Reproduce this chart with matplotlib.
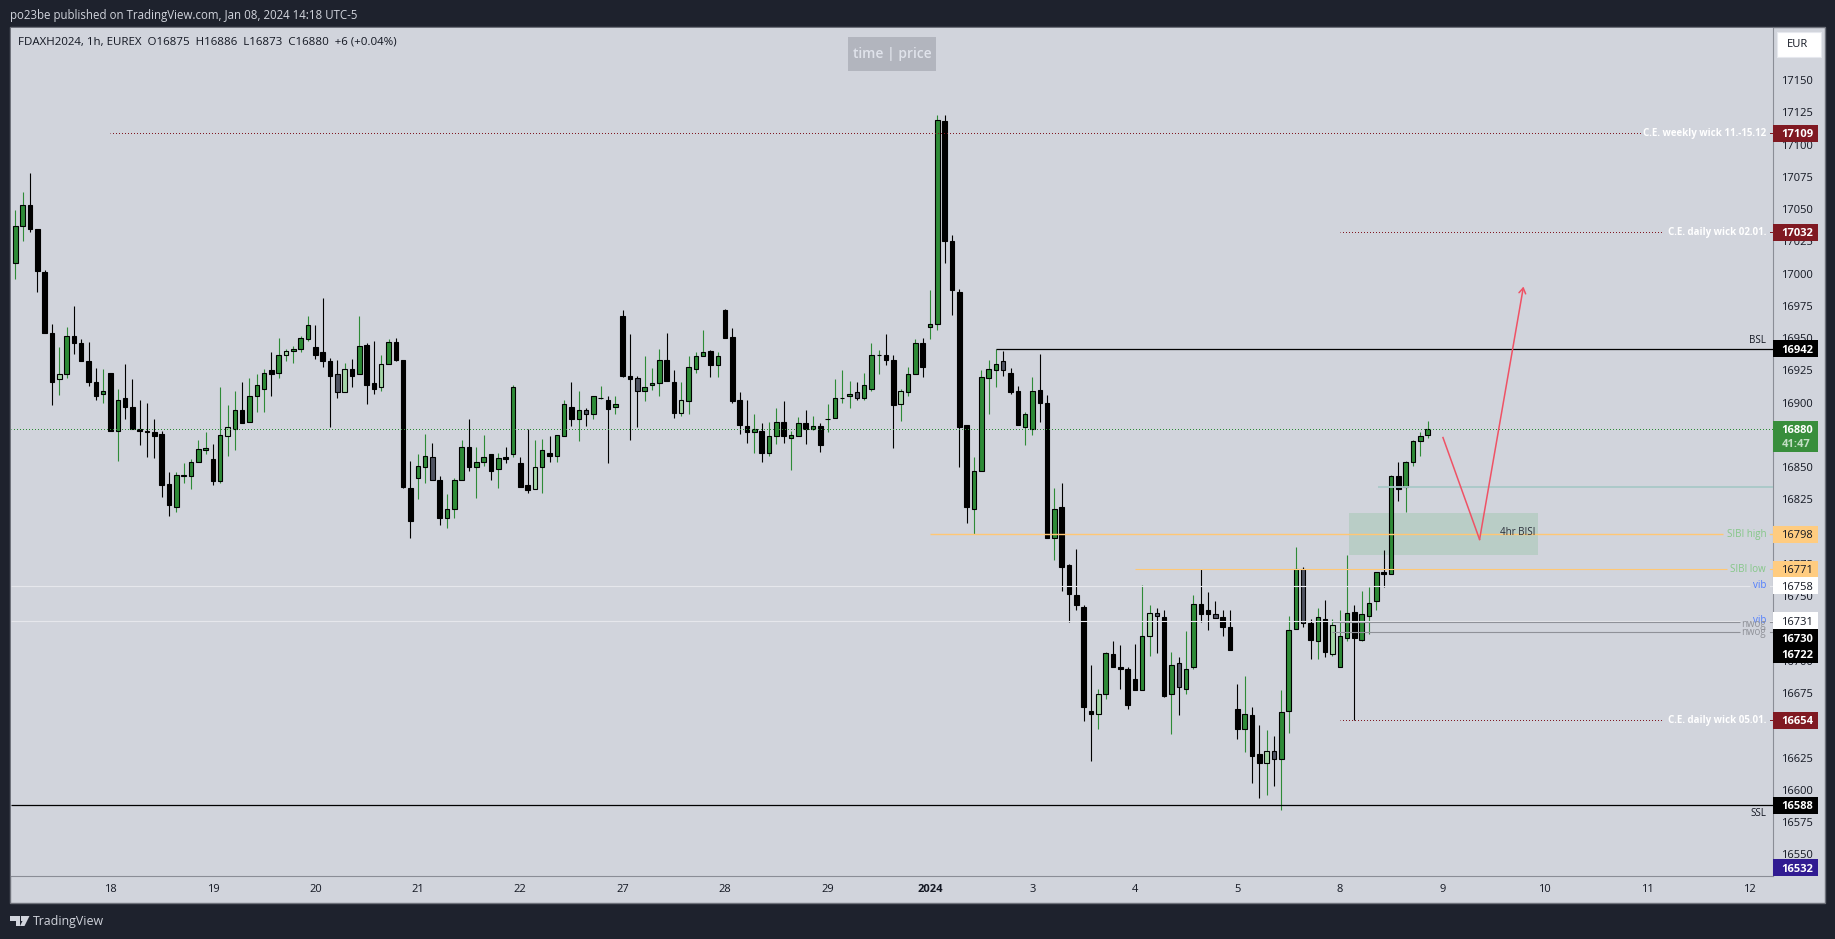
#!/usr/bin/env python3
"""
plot.py -- FDAXH2024 1h candles with the drawn levels, as published on TradingView.
Saves out.png (1835x939).
"""

import matplotlib
matplotlib.use("Agg")
import matplotlib.pyplot as plt
from matplotlib.patches import Polygon, Rectangle

# ---------------------------------------------------------------------------
#  Data
# ---------------------------------------------------------------------------
opens = [
    17008, 17037, 17053, 17035, 17001, 16954, 16918, 16922, 16952, 16946,
    16932, 16916, 16907, 16923, 16878, 16904, 16897, 16880, 16878, 16877,
    16876, 16837, 16819, 16843, 16843, 16854, 16863, 16856, 16839, 16874,
    16880, 16894, 16885, 16905, 16911, 16925, 16923, 16937, 16940, 16942,
    16949, 16943, 16939, 16932, 16922, 16908, 16926, 16922, 16945, 16915,
    16912, 16930, 16947, 16933, 16834, 16842, 16850, 16858, 16840, 16811,
    16818, 16840, 16866, 16850, 16854, 16860, 16849, 16858, 16860, 16853,
    16836, 16833, 16850, 16861, 16859, 16874, 16897, 16887, 16894, 16891,
    16904, 16902, 16897, 16967, 16921, 16919, 16909, 16914, 16915, 16933,
    16916, 16892, 16901, 16926, 16936, 16940, 16929, 16972, 16951, 16902,
    16882, 16877, 16878, 16861, 16874, 16885, 16873, 16874, 16884, 16880,
    16882, 16887, 16888, 16904, 16905, 16908, 16904, 16911, 16937, 16937,
    16933, 16899, 16908, 16922, 16946, 16959, 16961, 17118, 17025, 16986,
    16883, 16818, 16847, 16919, 16925, 16932, 16923, 16909, 16881, 16880,
    16910, 16900, 16795, 16819, 16774, 16751, 16742, 16661, 16659, 16674,
    16705, 16695, 16694, 16686, 16677, 16719, 16737, 16734, 16674, 16698,
    16678, 16695, 16744, 16739, 16736, 16734, 16726, 16663, 16647, 16658,
    16628, 16621, 16630, 16624, 16661, 16725, 16771, 16729, 16715, 16732,
    16705, 16695, 16718, 16738, 16716, 16735, 16746, 16769, 16767, 16843,
    16835, 16854, 16870, 16875,
]
highs = [
    17049, 17063, 17078, 17035, 17003, 16961, 16943, 16959, 16975, 16949,
    16947, 16927, 16926, 16923, 16911, 16930, 16918, 16902, 16900, 16887,
    16878, 16846, 16846, 16853, 16856, 16871, 16877, 16868, 16912, 16898,
    16909, 16916, 16919, 16922, 16926, 16939, 16950, 16942, 16944, 16952,
    16967, 16960, 16981, 16935, 16933, 16931, 16934, 16967, 16946, 16948,
    16937, 16949, 16950, 16933, 16855, 16860, 16876, 16869, 16843, 16829,
    16842, 16871, 16887, 16866, 16875, 16860, 16861, 16866, 16914, 16858,
    16880, 16871, 16872, 16874, 16875, 16902, 16916, 16909, 16896, 16905,
    16913, 16905, 16905, 16972, 16953, 16921, 16936, 16927, 16942, 16954,
    16925, 16916, 16936, 16939, 16956, 16941, 16939, 16973, 16958, 16908,
    16902, 16891, 16884, 16885, 16896, 16901, 16878, 16889, 16894, 16890,
    16884, 16899, 16918, 16925, 16917, 16916, 16923, 16946, 16941, 16953,
    16937, 16911, 16928, 16949, 16950, 16987, 17123, 17123, 17030, 16988,
    16883, 16858, 16925, 16933, 16942, 16940, 16927, 16913, 16893, 16920,
    16938, 16906, 16834, 16838, 16775, 16787, 16743, 16697, 16678, 16707,
    16715, 16712, 16695, 16713, 16759, 16743, 16741, 16739, 16707, 16703,
    16723, 16751, 16771, 16753, 16746, 16739, 16739, 16682, 16688, 16664,
    16650, 16646, 16642, 16677, 16735, 16788, 16773, 16732, 16741, 16747,
    16732, 16739, 16782, 16743, 16754, 16757, 16769, 16786, 16844, 16854,
    16855, 16871, 16877, 16886,
]
lows = [
    16996, 17025, 17032, 16986, 16954, 16898, 16906, 16919, 16938, 16932,
    16913, 16902, 16900, 16878, 16855, 16887, 16880, 16867, 16858, 16857,
    16827, 16812, 16815, 16838, 16833, 16854, 16860, 16836, 16838, 16859,
    16863, 16884, 16885, 16893, 16893, 16905, 16919, 16932, 16931, 16939,
    16948, 16934, 16928, 16881, 16904, 16908, 16912, 16922, 16899, 16907,
    16909, 16930, 16932, 16834, 16795, 16825, 16838, 16840, 16805, 16803,
    16811, 16840, 16847, 16826, 16851, 16840, 16834, 16853, 16858, 16835,
    16830, 16833, 16830, 16854, 16854, 16874, 16882, 16870, 16882, 16887,
    16903, 16853, 16891, 16920, 16871, 16881, 16901, 16910, 16905, 16917,
    16888, 16890, 16891, 16923, 16936, 16920, 16920, 16950, 16900, 16876,
    16869, 16861, 16854, 16859, 16868, 16869, 16848, 16874, 16868, 16879,
    16862, 16877, 16888, 16900, 16896, 16902, 16902, 16909, 16922, 16929,
    16865, 16886, 16905, 16922, 16920, 16949, 16956, 17008, 16968, 16850,
    16807, 16798, 16847, 16891, 16912, 16921, 16907, 16883, 16867, 16875,
    16885, 16795, 16778, 16754, 16730, 16739, 16653, 16622, 16647, 16670,
    16695, 16678, 16663, 16677, 16677, 16704, 16706, 16672, 16643, 16658,
    16674, 16694, 16730, 16724, 16733, 16719, 16708, 16639, 16629, 16605,
    16594, 16596, 16603, 16584, 16644, 16725, 16726, 16701, 16701, 16703,
    16704, 16695, 16715, 16654, 16715, 16721, 16739, 16757, 16767, 16824,
    16815, 16851, 16859, 16873,
]
closes = [
    17037, 17053, 17035, 17002, 16954, 16916, 16922, 16952, 16946, 16932,
    16916, 16905, 16909, 16878, 16902, 16897, 16880, 16878, 16877, 16874,
    16836, 16821, 16844, 16844, 16854, 16864, 16865, 16839, 16875, 16881,
    16894, 16884, 16905, 16914, 16923, 16922, 16937, 16940, 16942, 16950,
    16960, 16937, 16932, 16921, 16908, 16926, 16921, 16944, 16914, 16911,
    16930, 16947, 16933, 16835, 16808, 16851, 16859, 16840, 16811, 16818,
    16840, 16866, 16850, 16854, 16858, 16847, 16857, 16856, 16912, 16835,
    16832, 16850, 16863, 16859, 16875, 16899, 16887, 16894, 16891, 16905,
    16904, 16895, 16899, 16921, 16918, 16909, 16912, 16915, 16933, 16917,
    16892, 16902, 16928, 16936, 16939, 16929, 16936, 16950, 16901, 16883,
    16877, 16880, 16861, 16874, 16885, 16874, 16875, 16884, 16880, 16882,
    16867, 16887, 16904, 16904, 16907, 16904, 16914, 16937, 16937, 16933,
    16898, 16909, 16922, 16946, 16928, 16961, 17119, 17025, 16987, 16881,
    16819, 16847, 16920, 16926, 16930, 16925, 16908, 16883, 16891, 16909,
    16900, 16795, 16818, 16773, 16752, 16743, 16664, 16659, 16674, 16706,
    16695, 16694, 16666, 16677, 16719, 16737, 16735, 16673, 16697, 16680,
    16694, 16744, 16736, 16736, 16733, 16726, 16708, 16647, 16659, 16626,
    16621, 16630, 16624, 16660, 16724, 16771, 16729, 16716, 16734, 16707,
    16728, 16719, 16737, 16718, 16736, 16745, 16769, 16767, 16843, 16833,
    16854, 16870, 16874, 16880,
]
# g = green, b = black, l = light green, d = dark grey
kinds = (
    "ggbbbblgbb" "bbgbgbbbbb" "bbgggggbgl" "gbgggbglgg" "gbbbdlbgbb"
    "lgbbbggdbg" "ggbggbgbgb" "blgbggbgdg" "gbgbbdgggb" "blgggbgbbb"
    "bgbggbggbg" "bggggdgggb" "blggbggbbb" "bggggdbbgg" "bbgbbbbblg"
    "bbbbgldbgd" "ggbbdbbbgb" "bldgggdbgb" "lggbgggbgb" "gggg"
)

day_ticks = [13 + 14 * k for k in range(17)]
day_labels = ["18", "19", "20", "21", "22", "27", "28", "29", "2024",
              "3", "4", "5", "8", "9", "10", "11", "12"]
price_ticks = list(range(16550, 17151, 25))

tag_prices = [17109, 17032, 16942, 16880, 16798, 16771, 16758, 16731, 16730, 16722, 16654, 16588, 16532]
tag_shifts = [0, 0, 0, 0, 0, 0, 0, 0, -12, -17, 0, 0, 7.5]

path_x = [195.1, 200.1, 206.1]
path_y = [16873, 16794, 16990]

# ---------------------------------------------------------------------------
#  Layout / colours
# ---------------------------------------------------------------------------
W, H = 1835, 939
AX_L, AX_R, AX_T, AX_B = 10.5, 1773, 27.5, 876
FRAME_R, FRAME_B = 1825, 903

BG = "#1e222d"
PANE = "#d1d4dc"
BORDER = "#8a8d96"
TEXT = "#131722"
FONT = ["Open Sans", "DejaVu Sans"]

GREEN = "#2e8b37"
LIGHT = "#a5d6a7"
GREY = "#4f5361"
RED_DK = "#801922"
ORANGE = "#ffcc80"
TAG_COLORS = [RED_DK, RED_DK, "#000000", "#388e3c", ORANGE, ORANGE, "#ffffff", "#ffffff",
              "#000000", "#000000", RED_DK, "#000000", "#311b92"]
TAG_TEXT = ["w", "w", "w", "w", "k", "k", "k", "k", "w", "w", "w", "w", "w"]

plt.rcParams["font.family"] = FONT


def fx(px):
    return px / W


def fy(py):
    return 1 - py / H


def add_rect(fig, x0, y0, x1, y1, **kw):
    fig.add_artist(Rectangle((fx(x0), fy(y1)), fx(x1) - fx(x0), fy(y0) - fy(y1),
                             transform=fig.transFigure, **kw))


def level(ax, price, x0, x1, color, lw=0.72, ls="-", stub=False):
    """Horizontal level from bar x0 to bar x1 (None = to the price axis)."""
    end = ax.get_xlim()[1] if x1 is None else x1
    line = ax.plot([x0, end], [price, price], color=color, lw=lw, solid_capstyle="butt",
                   dash_capstyle="butt", zorder=4)[0]
    if ls == "dot":
        # half a pixel of offset keeps the 1px dots on whole pixels
        line.set_linestyle((0.5, (1, 2)))
        line.set_snap(True)
    if stub:
        xr = ax.get_xlim()[1]
        ax.plot([xr - 0.4, xr], [price, price], color=color, lw=lw, zorder=4)


def right_label(ax, price, text, color, dy=0, **kw):
    ax.annotate(text, xy=(1, price), xycoords=ax.get_yaxis_transform(),
                xytext=(-7, dy), textcoords="offset pixels",
                ha="right", va="center", color=color, fontsize=7, zorder=6, **kw)


# ---------------------------------------------------------------------------
#  Plot
# ---------------------------------------------------------------------------
def main():
    fig = plt.figure(figsize=(W / 100, H / 100), dpi=100, facecolor=BG)

    add_rect(fig, 10, 27, FRAME_R, FRAME_B, facecolor=PANE, edgecolor="#6f727b", lw=1.0, zorder=0)

    ax = fig.add_axes([fx(AX_L), fy(AX_B), fx(AX_R) - fx(AX_L), fy(AX_T) - fy(AX_B)], zorder=2)
    ax.set_facecolor(PANE)
    ax.set_xlim(-0.66, 240.2)
    ax.set_ylim(16533.2, 17190.8)
    for side in ["top", "left"]:
        ax.spines[side].set_visible(False)
    for side in ["bottom", "right"]:
        ax.spines[side].set_color(BORDER)
        ax.spines[side].set_linewidth(0.8)

    ax.yaxis.tick_right()
    ax.set_yticks(price_ticks)
    ax.tick_params(axis="y", length=0, pad=5.8, labelsize=8, labelcolor=TEXT)
    ax.set_xticks(day_ticks)
    ax.set_xticklabels(day_labels)
    ax.tick_params(axis="x", length=0, pad=6, labelsize=8, labelcolor=TEXT)
    ax.get_xticklabels()[8].set_fontweight("bold")

    # zone under the candles
    ax.add_patch(Rectangle((182.2, 16781.9), 25.9, 32.5, facecolor="#b9cdc6", edgecolor="none", zorder=1))
    ax.text(207.7, 16799.5, "4hr BISI", ha="right", va="center", fontsize=7, color="#2a2e39", zorder=6)

    # candles
    xs = list(range(len(opens)))
    fills = {"g": GREEN, "b": "#000000", "l": LIGHT, "d": GREY}
    wicks = [GREEN if k in "gl" else "#000000" for k in kinds]
    ax.vlines(xs, lows, highs, colors=wicks, linewidth=0.8, zorder=2)
    bottoms = [min(o, c) for o, c in zip(opens, closes)]
    heights = [abs(o - c) for o, c in zip(opens, closes)]
    ax.bar(xs, heights, bottom=bottoms, width=0.62, color=[fills[k] for k in kinds],
           edgecolor="#000000", linewidth=0.8, zorder=3)

    # levels
    level(ax, 17109, 13, 222.1, RED_DK, ls="dot", stub=True)
    level(ax, 17032, 181, 225.1, RED_DK, ls="dot", stub=True)
    level(ax, 16654, 181, 225.1, RED_DK, ls="dot", stub=True)
    level(ax, 16942, 134, None, "#000000", lw=0.9)
    level(ax, 16880, -0.66, None, "#2e8b37", ls="dot")
    level(ax, 16834.5, 186.2, None, "#a9c8c8", lw=1.3)
    level(ax, 16798, 125, 233.3, "#ffc774", lw=1.0, stub=True)
    level(ax, 16771, 153, 233.9, "#ffc774", lw=0.8, stub=True)
    level(ax, 16758, -0.66, 237, "#e6e7ec", lw=0.8, stub=True)
    level(ax, 16731, -0.66, 235.7, "#e6e7ec", lw=0.8, stub=True)
    level(ax, 16730, 180, 235.7, "#8f9198", lw=0.8, stub=True)
    level(ax, 16722, 180, 235.7, "#8f9198", lw=0.8, stub=True)
    level(ax, 16588, -0.66, None, "#000000", lw=0.9)

    right_label(ax, 17109, "C.E. weekly wick 11.-15.12", "#ffffff", fontweight="bold")
    right_label(ax, 17032, "C.E. daily wick 02.01.", "#ffffff", fontweight="bold")
    right_label(ax, 16654, "C.E. daily wick 05.01.", "#ffffff", fontweight="bold")
    right_label(ax, 16942, "BSL", TEXT, dy=8)
    right_label(ax, 16588, "SSL", TEXT, dy=-8.5)
    right_label(ax, 16798, "SIBI high", "#85c788")
    right_label(ax, 16771, "SIBI low", "#85c788")
    right_label(ax, 16758, "vib", "#4f7dff")
    right_label(ax, 16731, "vib", "#4f7dff")
    right_label(ax, 16730, "nwog", "#8f9198", dy=-2)
    right_label(ax, 16722, "nwog", "#8f9198")

    # red projection
    ax.plot(path_x[:2], path_y[:2], color="#ef5265", lw=1.1, zorder=5)
    ax.annotate("", xy=(path_x[2], path_y[2]), xytext=(path_x[1], path_y[1]),
                arrowprops=dict(arrowstyle="->,head_length=0.35,head_width=0.22", color="#ef5265",
                                lw=1.1, shrinkA=0, shrinkB=0, mutation_scale=11), zorder=5)

    # price tags on the axis
    yt = ax.get_yaxis_transform()
    tag_w = 45 / (AX_R - AX_L)
    tag_h = 17 / 1.291
    for price, shift, col, tc in zip(tag_prices, tag_shifts, TAG_COLORS, TAG_TEXT):
        y = price + shift
        h, y0 = tag_h, y - tag_h / 2
        if price == 16880:
            h, y0 = 31 / 1.291, y - 23 / 1.291
        ax.add_patch(Rectangle((1, y0), tag_w, h, transform=yt, facecolor=col, edgecolor="none",
                               clip_on=False, zorder=7))
        ax.annotate(str(price), xy=(1, y), xycoords=yt, xytext=(8.5, 0), textcoords="offset pixels",
                    ha="left", va="center_baseline", fontsize=8, color="#ffffff" if tc == "w" else TEXT,
                    fontweight="bold" if tc == "w" else "normal", zorder=8, annotation_clip=False)
    ax.annotate("41:47", xy=(1, 16880), xycoords=yt, xytext=(8.5, -14.5), textcoords="offset pixels",
                ha="left", va="center_baseline", fontsize=8, color="#c3dfc5", fontweight="bold",
                zorder=8, annotation_clip=False)

    # header and overlays
    fig.text(fx(10), fy(15), "po23be published on TradingView.com, Jan 08, 2024 14:18 UTC-5",
             color="#d1d4dc", fontsize=8.3, va="center", ha="left")
    fig.text(fx(18), fy(42), "FDAXH2024, 1h, EUREX  O16875  H16886  L16873  C16880  +6 (+0.04%)",
             color=TEXT, fontsize=8.25, va="center", ha="left", zorder=5)

    add_rect(fig, 848, 37, 936, 71, facecolor="#b2b5be", edgecolor="none", zorder=4)
    fig.text(fx(892), fy(54), "time | price", color="#e0e3eb", fontsize=10, fontweight="semibold",
             va="center", ha="center", zorder=5)

    add_rect(fig, 1777, 32, 1821, 57, facecolor="#ffffff", edgecolor="#e6e8ee", lw=0.8, zorder=4)
    fig.text(fx(1797), fy(44.5), "EUR", color=TEXT, fontsize=8, va="center", ha="center", zorder=5)

    # footer logo
    logo = [[(10, 916), (20, 916), (20, 926), (15.5, 926), (15.5, 920.5), (10, 920.5)],
            [(25, 916), (29.5, 916), (24.5, 926), (20, 926)]]
    for pts in logo:
        fig.add_artist(Polygon([(fx(a), fy(b)) for a, b in pts], closed=True, transform=fig.transFigure,
                               facecolor="#d1d4dc", edgecolor="none"))
    fig.add_artist(Rectangle((fx(20.8), fy(920.5)), fx(4.4), fy(916) - fy(920.5), transform=fig.transFigure,
                             facecolor="#d1d4dc", edgecolor="none"))
    fig.text(fx(33), fy(921), "TradingView", color="#d1d4dc", fontsize=8.9, va="center", ha="left")

    fig.savefig("out.png", dpi=100, facecolor=fig.get_facecolor())
    plt.close(fig)


if __name__ == "__main__":
    main()
